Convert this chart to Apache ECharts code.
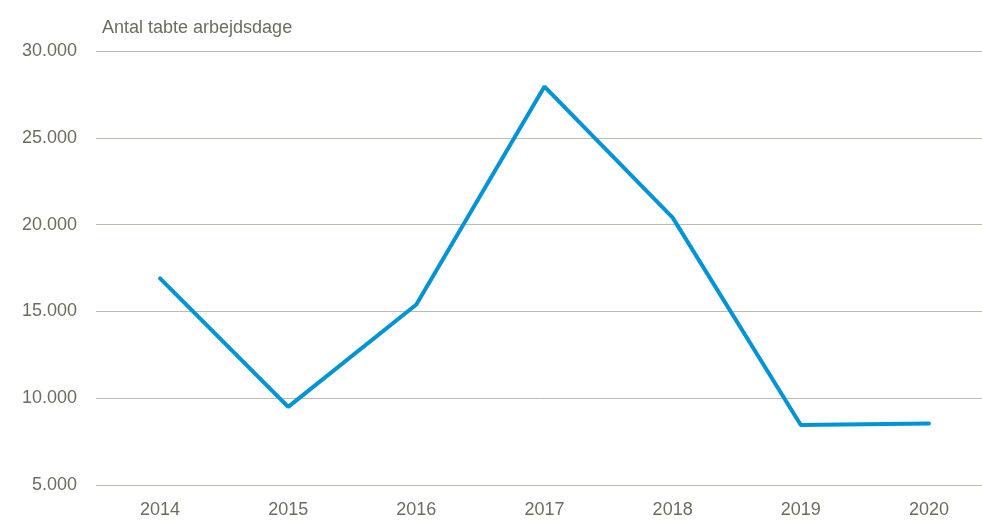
<!DOCTYPE html>
<html>
<head>
<meta charset="utf-8">
<script src="https://cdn.jsdelivr.net/npm/echarts@6/dist/echarts.min.js"></script>
<style>
html,body{margin:0;padding:0;background:#fff;}
#chart{width:982px;height:525px;}
</style>
</head>
<body>
<div id="chart"></div>
<script>
var years = ['2014','2015','2016','2017','2018','2019','2020'];
var lostWorkdays = [16900, 9500, 15400, 27950, 20400, 8460, 8540];
var yTitle = 'Antal tabte arbejdsdage';

var textColor = '#6e6c5f';
var fontFam = '"Liberation Sans", Arial, sans-serif';

var chart = echarts.init(document.getElementById('chart'));
chart.setOption({
  animation: false,
  backgroundColor: '#ffffff',
  title: {
    text: yTitle,
    left: 97, top: 14,
    textStyle: {color: textColor, fontSize: 18, fontWeight: 'normal', fontFamily: fontFam}
  },
  grid: {left: 96, width: 897, top: 51, bottom: 40, outerBoundsMode: 'none', containLabel: false},
  xAxis: {
    type: 'category',
    data: years,
    boundaryGap: true,
    axisLine: {show: false},
    axisTick: {show: false},
    axisLabel: {color: textColor, fontSize: 18, fontFamily: fontFam, margin: 16}
  },
  yAxis: {
    type: 'value',
    min: 5000, max: 30000, interval: 5000,
    axisLine: {show: false},
    axisTick: {show: false},
    splitLine: {lineStyle: {color: '#bdbaae', width: 1}},
    axisLabel: {
      color: textColor, fontSize: 18, fontFamily: fontFam, margin: 19,
      formatter: function (v) { return v.toLocaleString('de-DE'); }
    }
  },
  series: [{
    type: 'line',
    data: lostWorkdays,
    symbol: 'none',
    lineStyle: {color: '#0093d5', width: 4, cap: 'round'}
  }]
});
</script>
</body>
</html>
